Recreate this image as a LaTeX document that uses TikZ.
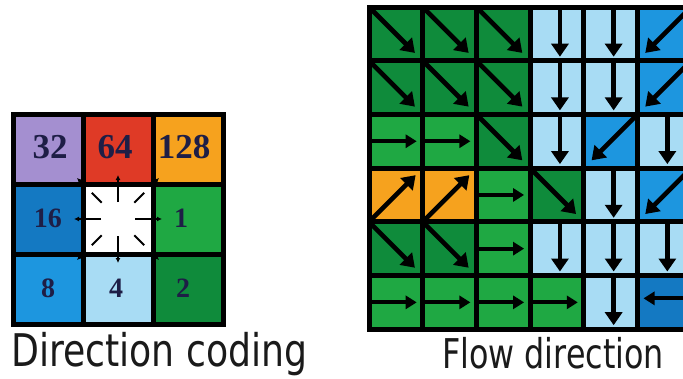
\documentclass[tikz,border=0pt]{standalone}
\usepackage{fontspec}
\usepackage{graphicx}
\setmainfont{Liberation Serif}
\newfontfamily\capfont{DejaVu Sans}
\usetikzlibrary{arrows.meta}
\definecolor{cDG}{HTML}{0F8B3B}
\definecolor{cG}{HTML}{1FA843}
\definecolor{cLB}{HTML}{A8DCF4}
\definecolor{cB}{HTML}{1D96DF}
\definecolor{cBW}{HTML}{1479C2}
\definecolor{cO}{HTML}{F6A21E}
\definecolor{cP}{HTML}{A48FD0}
\definecolor{cR}{HTML}{DF3A26}
\definecolor{numcol}{HTML}{1E1E46}
\definecolor{capcol}{HTML}{1A1A1A}
\tikzset{
  code/.style={draw=black, line width=5pt, minimum width=70pt, minimum height=70pt, inner sep=0pt, outer sep=0pt, anchor=north west},
  bignum/.style={font=\bfseries\fontsize{35}{35}\selectfont, text=numcol, inner sep=0pt},
  smallnum/.style={font=\bfseries\fontsize{28}{28}\selectfont, text=numcol, inner sep=0pt},
  ray/.style={line width=1.8pt, draw=black},
  rayarrow/.style={line width=1.8pt, draw=black, -{Latex[length=5pt,width=5pt]}},
  fcell/.style={draw=black, line width=5pt, minimum width=53.7pt, minimum height=53.7pt, inner sep=0pt, outer sep=0pt, anchor=north west},
  flow/.style={line width=4.6pt, draw=black, -{Triangle[length=13pt,width=17pt]}},
  flowsmall/.style={line width=4.2pt, draw=black, -{Triangle[length=11pt,width=13pt]}},
  caption/.style={inner sep=0pt, anchor=base west, text=capcol}
}
\begin{document}
\begin{tikzpicture}[x=1pt,y=-1pt]
\useasboundingbox (0,0) rectangle (683,378);
\clip (0,0) rectangle (683,378);
\fill[white] (0,0) rectangle (683,378);

% ---- direction coding grid ----
\node[code, fill=cP]  (d32)  at (13,114) {};
\node[code, fill=cR]  (d64)  at (83,114) {};
\node[code, fill=cO]  (d128) at (153,114) {};
\node[code, fill=cBW] (d16)  at (13,184) {};
\node[code, fill=white] (dc) at (83,184) {};
\node[code, fill=cG]  (d1)   at (153,184) {};
\node[code, fill=cB]  (d8)   at (13,254) {};
\node[code, fill=cLB] (d4)   at (83,254) {};
\node[code, fill=cDG] (d2)   at (153,254) {};

\node[bignum] (n32) at (50,147) {32};
\node[bignum] (n64) at (115,147) {64};
\node[bignum] (n128) at (184,147) {128};
\node[smallnum] (n16) at (48,218) {16};
\node[smallnum] (n1) at (181,218) {1};
\node[smallnum] (n8) at (48,288) {8};
\node[smallnum] (n4) at (116,288) {4};
\node[smallnum] (n2) at (183,288) {2};

% rays in the centre cell
\foreach \a in {0,90,180,270} {
  \draw[ray] ([shift={(\a:17)}]dc.center) -- ([shift={(\a:35)}]dc.center);
  \draw[rayarrow] ([shift={(\a:35)}]dc.center) -- ([shift={(\a:44)}]dc.center);
}
\foreach \a in {45,135,225,315} {
  \draw[ray] ([shift={(\a:23)}]dc.center) -- ([shift={(\a:37)}]dc.center);
  \draw[rayarrow] ([shift={(\a:49)}]dc.center) -- ([shift={(\a:58)}]dc.center);
}

% ---- flow direction grid ----
\foreach \r/\c/\col in {
 1/1/cDG,1/2/cDG,1/3/cDG,1/4/cLB,1/5/cLB,1/6/cB,
 2/1/cDG,2/2/cDG,2/3/cDG,2/4/cLB,2/5/cLB,2/6/cB,
 3/1/cG,3/2/cG,3/3/cDG,3/4/cLB,3/5/cB,3/6/cLB,
 4/1/cO,4/2/cO,4/3/cG,4/4/cDG,4/5/cLB,4/6/cB,
 5/1/cDG,5/2/cDG,5/3/cG,5/4/cLB,5/5/cLB,5/6/cLB,
 6/1/cG,6/2/cG,6/3/cG,6/4/cG,6/5/cLB,6/6/cBW} {
  \node[fcell, fill=\col] (f\r\c) at ({369+(\c-1)*53.7},{7+(\r-1)*53.7}) {};
}
% south-east
\foreach \n in {11,12,13,21,22,23,33,44,51,52}
  \draw[flow, shorten >=11pt] (f\n.north west) -- (f\n.south east);
% south
\foreach \n in {14,15,24,25,34,36,45,54,55,56,65}
  \draw[flow, shorten >=4pt] ([xshift=3pt]f\n.north) -- ([xshift=3pt]f\n.south);
% south-west
\foreach \n in {16,26,35,46}
  \draw[flow, shorten >=11pt] (f\n.north east) -- (f\n.south west);
% east
\foreach \n in {31,32,43,53,61,62,63,64}
  \draw[flowsmall, shorten >=6pt] (f\n.west) -- (f\n.east);
% north-east
\foreach \n in {41,42}
  \draw[flow, shorten >=10pt] (f\n.south west) -- (f\n.north east);
% west
\draw[flowsmall, shorten >=6pt] ([yshift=4pt]f66.east) -- ([yshift=4pt]f66.west);

% ---- captions ----
\node[caption] (cap1) at (11,366) {\capfont\fontsize{45}{45}\selectfont\scalebox{0.805}[1]{Direction coding}};
\node[caption] (cap2) at (442,368) {\capfont\fontsize{41}{41}\selectfont\scalebox{0.775}[1]{Flow direction}};
\end{tikzpicture}
\end{document}
